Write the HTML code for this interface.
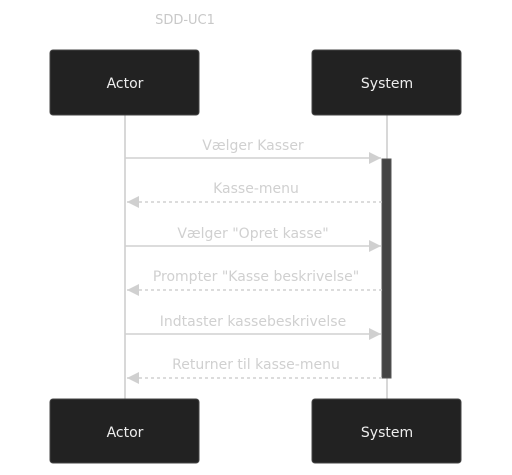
<!DOCTYPE html>
<html><head><style>
body{margin:0;background:#fff;}
svg{display:block;font-family:"Trebuchet MS","DejaVu Sans","Liberation Sans",sans-serif;}
</style></head><body>
<svg width="512" height="475" viewBox="0 0 512 475" xmlns="http://www.w3.org/2000/svg">
<defs>
<marker id="a" viewBox="0 0 10 10" refX="10" refY="5" markerWidth="12" markerHeight="12" markerUnits="userSpaceOnUse" orient="auto"><path d="M0,0L10,5L0,10z" fill="#d0d0d0"/></marker>
</defs>
<text x="185" y="24" font-size="13" fill="#c8c8c8" text-anchor="middle">SDD-UC1</text>
<line x1="125" y1="115" x2="125" y2="399" stroke="#cccccc" stroke-width="1.5"/>
<line x1="387" y1="115" x2="387" y2="399" stroke="#cccccc" stroke-width="1.5"/>
<rect x="50" y="50" width="149" height="65" rx="3" fill="#222" stroke="#444"/>
<rect x="312" y="50" width="149" height="65" rx="3" fill="#222" stroke="#444"/>
<rect x="50" y="399" width="149" height="64" rx="3" fill="#222" stroke="#444"/>
<rect x="312" y="399" width="149" height="64" rx="3" fill="#222" stroke="#444"/>
<g font-size="14" fill="#eee" text-anchor="middle">
<text x="125" y="88">Actor</text><text x="387" y="88">System</text>
<text x="125" y="437">Actor</text><text x="387" y="437">System</text>
</g>
<rect x="382" y="159" width="9" height="219" fill="#444" stroke="#555"/>
<g stroke="#d0d0d0" stroke-width="1.5">
<line x1="125" y1="158" x2="381" y2="158" marker-end="url(#a)"/>
<line x1="382" y1="202" x2="127" y2="202" stroke-dasharray="3,3" marker-end="url(#a)"/>
<line x1="125" y1="246" x2="381" y2="246" marker-end="url(#a)"/>
<line x1="382" y1="290" x2="127" y2="290" stroke-dasharray="3,3" marker-end="url(#a)"/>
<line x1="125" y1="334" x2="381" y2="334" marker-end="url(#a)"/>
<line x1="382" y1="378" x2="127" y2="378" stroke-dasharray="3,3" marker-end="url(#a)"/>
</g>
<g font-size="14" fill="#d0d0d0" text-anchor="middle">
<text x="253" y="150">Vælger Kasser</text>
<text x="256" y="193">Kasse-menu</text>
<text x="253" y="238">Vælger "Opret kasse"</text>
<text x="256" y="281">Prompter "Kasse beskrivelse"</text>
<text x="253" y="326">Indtaster kassebeskrivelse</text>
<text x="256" y="369">Returner til kasse-menu</text>
</g>
</svg>
</body></html>
